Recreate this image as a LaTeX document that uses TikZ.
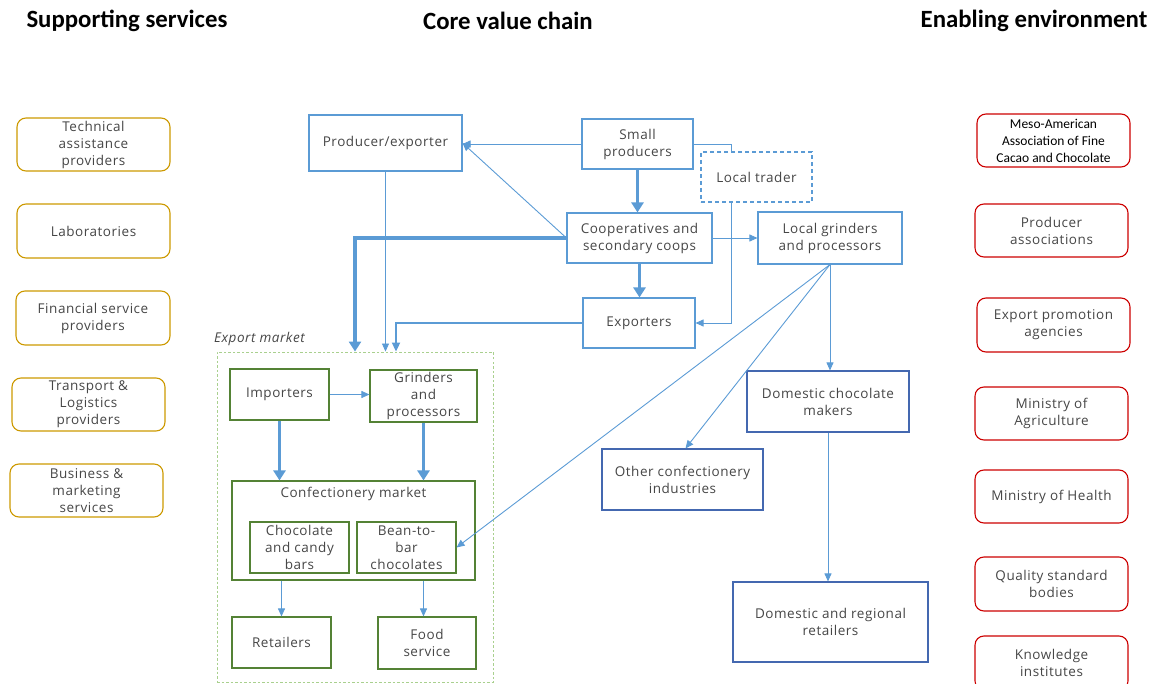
\documentclass[tikz,border=0pt]{standalone}
\usepackage{fontspec}
\setmainfont{Open Sans}[LetterSpace=4]
\newfontfamily\headfont{Carlito}
\usetikzlibrary{arrows.meta,calc}

\definecolor{flow}{RGB}{91,155,213}
\definecolor{chainblue}{RGB}{91,155,213}
\definecolor{deepblue}{RGB}{68,104,176}
\definecolor{mktgreen}{RGB}{84,130,53}
\definecolor{paleGreen}{RGB}{169,208,142}
\definecolor{supgold}{RGB}{204,153,0}
\definecolor{envred}{RGB}{204,0,0}
\definecolor{txtgray}{RGB}{70,70,70}

\tikzset{
  x=1pt, y=-1pt,
  txt/.style={font=\fontsize{13.5}{17}\selectfont, text=txtgray, align=center, inner sep=0pt},
  card/.style={txt, draw, line width=1.1pt, minimum width=#1},
  chainbox/.style={card=#1, draw=chainblue},
  deepbox/.style={card=#1, draw=deepblue},
  mktbox/.style={card=#1, draw=mktgreen},
  supbox/.style={card=#1, draw=supgold, rounded corners=9pt, minimum height=53pt},
  envbox/.style={card=#1, draw=envred, rounded corners=9pt, minimum height=53pt},
  heading/.style={font=\headfont\bfseries\fontsize{24.8}{27}\selectfont, text=black, inner sep=0pt},
  thinflow/.style={draw=flow, line width=0.9pt, -{Triangle[length=8pt,width=7pt]}},
  midflow/.style={draw=flow, line width=2pt, -{Triangle[length=9pt,width=8pt]}},
  thickflow/.style={draw=flow, line width=3.6pt, -{Triangle[length=10pt,width=12pt]}},
  link/.style={draw=flow, line width=0.9pt},
}

\begin{document}
\begin{tikzpicture}
\useasboundingbox (0,0) rectangle (1154,684);

% column headings
\node[heading] (hsup) at (127,21) {Supporting services};
\node[heading] (hcore) at (508,21) {Core value chain};
\node[heading] (henv) at (1034,21) {Enabling environment};

% supporting services
\node[supbox=153pt] (tap) at (93.5,144.5) {Technical\\assistance\\providers};
\node[supbox=153pt, minimum height=54pt] (lab) at (93.5,231) {Laboratories};
\node[supbox=154pt, minimum height=54pt] (fin) at (93,318) {Financial service\\providers};
\node[supbox=153pt] (trn) at (88.5,404.5) {Transport \&\\Logistics\\providers};
\node[supbox=153pt] (bus) at (86.5,490.5) {Business \&\\marketing\\services};

% enabling environment
\node[envbox=153pt, font=\headfont\fontsize{13.5}{17}\selectfont, text=black] (meso) at (1053.5,140.5) {Meso-American\\Association of Fine\\Cacao and Chocolate};
\node[envbox=153pt] (pa) at (1051.5,230.5) {Producer\\associations};
\node[envbox=153pt, minimum height=54pt] (epa) at (1053.5,325) {Export promotion\\agencies};
\node[envbox=153pt] (moa) at (1051.5,413.5) {Ministry of\\Agriculture};
\node[envbox=153pt] (moh) at (1051.5,496.5) {Ministry of Health};
\node[envbox=153pt, minimum height=54pt] (qsb) at (1051.5,584) {Quality standard\\bodies};
\node[envbox=153pt, minimum height=54pt] (ki) at (1051.5,663) {Knowledge\\institutes};

% core value chain
\node[chainbox=153pt, minimum height=56pt] (pe) at (385.5,143) {Producer/exporter};
\node[chainbox=111pt, minimum height=50pt] (sp) at (637.5,144) {Small\\producers};
\node[chainbox=111pt, minimum height=50pt, dashed, dash pattern=on 4pt off 3pt] (lt) at (756.5,177) {Local trader};
\node[chainbox=145pt, minimum height=50pt] (coop) at (639.5,238) {Cooperatives and\\secondary coops};
\node[chainbox=144pt, minimum height=52pt] (lg) at (830,238) {Local grinders\\and processors};
\node[chainbox=112pt, minimum height=50pt] (exp) at (639,323) {Exporters};
\node[deepbox=162pt, minimum height=61pt] (dcm) at (828,401.5) {Domestic chocolate\\makers};
\node[deepbox=161pt, minimum height=61pt] (oci) at (682.5,479.5) {Other confectionery\\industries};
\node[deepbox=195pt, minimum height=80pt] (drr) at (830.5,622) {Domestic and regional\\retailers};

% export market
\node[draw=paleGreen, line width=0.9pt, dashed, dash pattern=on 2.5pt off 2pt, minimum width=276pt, minimum height=330pt, inner sep=0pt] (em) at (355,517) {};
\node[txt, font=\itshape\fontsize{13.5}{17}\selectfont, anchor=south west] (emlabel) at (214,346) {Export market};
\node[mktbox=99pt, minimum height=51pt] (imp) at (279.5,394.5) {Importers};
\node[mktbox=107pt, minimum height=52pt] (gp) at (423.5,396) {Grinders\\and\\processors};
\node[mktbox=243pt, minimum height=99pt] (cm) at (353.5,530.5) {};
\node[txt, anchor=north] (cmlabel) at ($(cm.north)+(0,7)$) {Confectionery market};
\node[mktbox=99pt, minimum height=51pt] (ccb) at (299.5,547.5) {Chocolate\\and candy\\bars};
\node[mktbox=99pt, minimum height=51pt] (btb) at (406.5,547.5) {Bean-to-\\bar\\chocolates};
\node[mktbox=99pt, minimum height=51pt] (ret) at (281.5,642.5) {Retailers};
\node[mktbox=98pt, minimum height=52pt] (fs) at (427,643) {Food\\service};

% flows in the core chain
\draw[thinflow] (sp.west) -- (pe.east |- sp.west);
\draw[thinflow] (coop.west) -- (pe.east);
\draw[thickflow] (sp.south) -- (sp.south |- coop.north);
\draw[thickflow] (coop.south) -- (coop.south |- exp.north);
\draw[thinflow] (coop.east) -- (lg.west);
\draw[link] (sp.east) -| ($(lt.north)+(-25.5,0)$);
\draw[thinflow] ($(lt.south)+(-25.5,0)$) |- (exp.east);

% flows into the export market
\draw[thickflow] (coop.west) -| (em.north);
\draw[thinflow] (pe.south) -- (pe.south |- em.north);
\draw[midflow] (exp.west) -| ($(em.north)+(41,0)$);

% flows from local grinders
\draw[thinflow] (lg.south) -- (lg.south |- dcm.north);
\draw[thinflow] (lg.south) -- ($(oci.north)+(3,0)$);
\draw[thinflow] (lg.south) -- (btb.east);
\draw[thinflow] (dcm.south) -- (dcm.south |- drr.north);

% flows inside the export market
\draw[thinflow] (imp.east) -- (imp.east -| gp.west);
\draw[thickflow] (imp.south) -- (imp.south |- cm.north);
\draw[thickflow] (gp.south) -- (gp.south |- cm.north);
\draw[thinflow] (ret.north |- cm.south) -- (ret.north);
\draw[thinflow] (gp.south |- cm.south) -- (gp.south |- fs.north);
\end{tikzpicture}
\end{document}
